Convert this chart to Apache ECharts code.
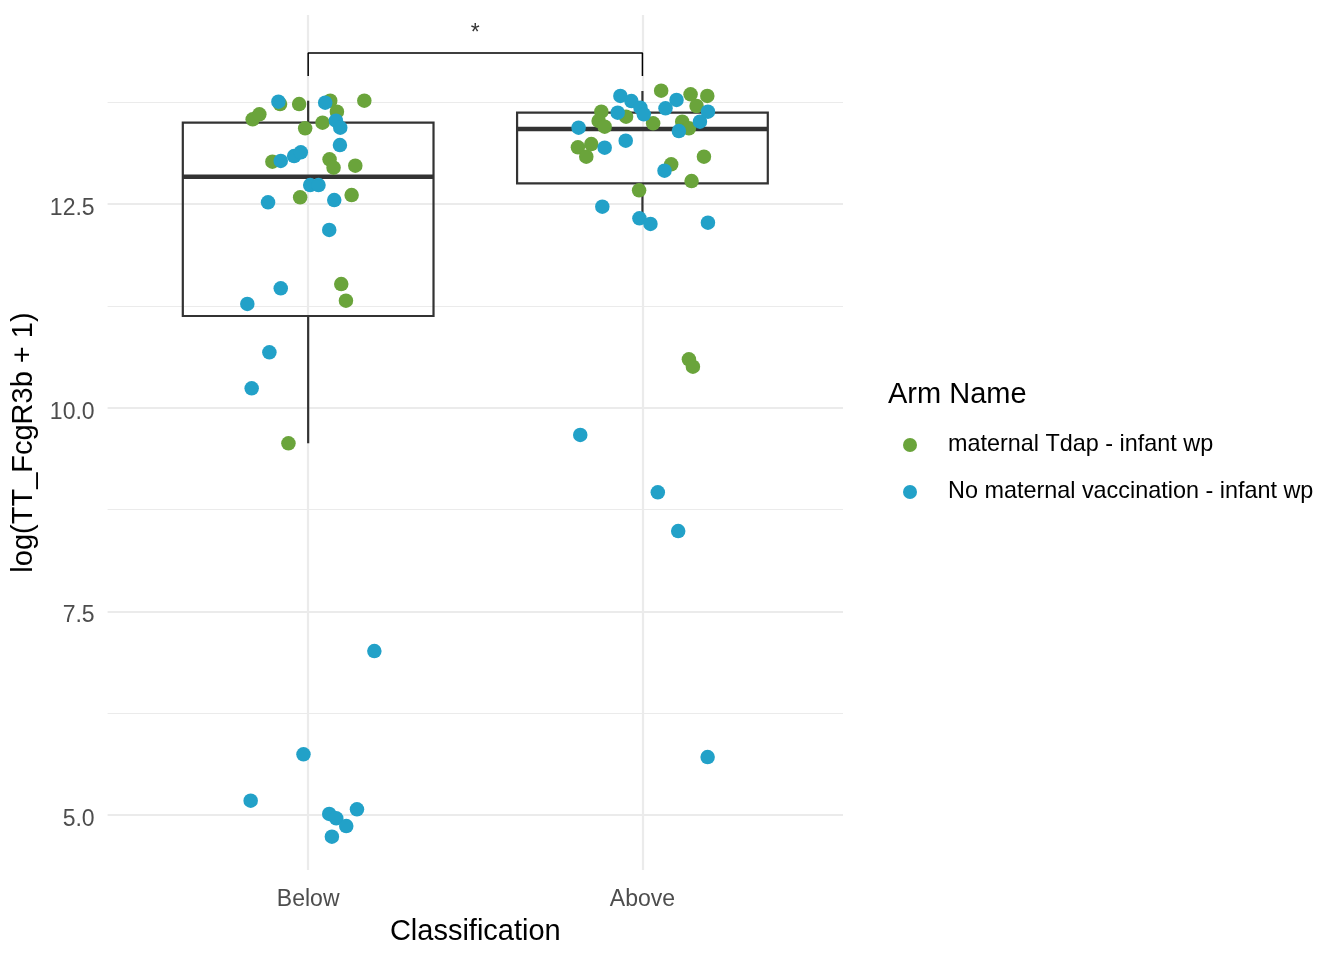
<!DOCTYPE html>
<html>
<head>
<meta charset="utf-8">
<title>TT_FcgR3b by Classification</title>
<script src="https://cdn.jsdelivr.net/npm/echarts@6/dist/echarts.min.js"></script>
<style>
  html, body { margin: 0; padding: 0; background: #fff; }
  .chart { width: 1344px; height: 960px; }
</style>
</head>
<body>
<div class="chart"></div>
<script>
// categories on the x axis (1 = Below, 2 = Above)
var classes = ['Below', 'Above'];
var armNames = ['maternal Tdap - infant wp', 'No maternal vaccination - infant wp'];

// y tick labels and grid lines
var yMajor = [5, 7.5, 10, 12.5];
var yMinor = [6.25, 8.75, 11.25, 13.75];

// box statistics per class: min, Q1, median, Q3, max (whisker ends)
var boxMin = [9.563, 12.385];
var boxQ1 = [11.125, 12.754];
var boxMed = [12.835, 13.421];
var boxQ3 = [13.498, 13.621];
var boxMax = [13.768, 13.887];

// maternal Tdap - infant wp, Below: jitter offset and value
var tdapBelowJit = [-0.084, -0.027, -0.166, -0.146, 0.066, 0.086, 0.168, -0.009, 0.043, -0.107, 0.064, 0.076, 0.141, -0.024, 0.130, 0.099, 0.113, -0.059];
var tdapBelowVal = [13.727, 13.727, 13.540, 13.601, 13.768, 13.633, 13.768, 13.429, 13.498, 13.019, 13.049, 12.946, 12.970, 12.582, 12.610, 11.518, 11.313, 9.563];
// maternal Tdap - infant wp, Above
var tdapAboveJit = [0.056, 0.144, 0.194, 0.162, -0.123, -0.049, -0.131, -0.113, 0.032, 0.119, 0.139, -0.193, -0.153, -0.168, 0.184, 0.086, 0.147, -0.010, 0.139, 0.151];
var tdapAboveVal = [13.891, 13.846, 13.826, 13.703, 13.633, 13.572, 13.519, 13.449, 13.491, 13.510, 13.429, 13.196, 13.236, 13.081, 13.081, 12.987, 12.782, 12.668, 10.594, 10.503];

// No maternal vaccination - infant wp, Below
var noVacBelowJit = [-0.089, 0.051, 0.083, 0.096, 0.095, -0.082, -0.042, -0.022, 0.006, 0.031, -0.120, 0.078, 0.063, -0.082, -0.182, -0.116, -0.169, 0.198, -0.014, -0.172, 0.063, 0.084, 0.146, 0.114, 0.071];
var noVacBelowVal = [13.756, 13.743, 13.522, 13.437, 13.224, 13.028, 13.089, 13.135, 12.733, 12.733, 12.521, 12.549, 12.181, 11.465, 11.273, 10.680, 10.238, 7.013, 5.745, 5.176, 5.013, 4.960, 5.070, 4.865, 4.734];
// No maternal vaccination - infant wp, Above
var noVacAboveJit = [-0.066, -0.033, 0.102, 0.069, -0.006, 0.004, -0.074, -0.191, 0.109, 0.172, 0.196, -0.050, -0.113, 0.066, -0.120, -0.009, 0.024, 0.196, -0.186, 0.046, 0.107, 0.195];
var noVacAboveVal = [13.826, 13.764, 13.777, 13.675, 13.682, 13.601, 13.621, 13.437, 13.396, 13.510, 13.633, 13.277, 13.191, 12.909, 12.467, 12.324, 12.255, 12.270, 9.665, 8.961, 8.486, 5.712];

// significance bracket between Below and Above
var bracketX = [1, 1, 2, 2];
var bracketY = [14.071, 14.353, 14.353, 14.071];
var sigLabel = '*';
var sigPos = [1.5, 14.59];

(function () {
  //1. init
  var myChart = echarts.init(document.querySelector('.chart'));

  var green = '#6AA43B';
  var blue = '#22A1C8';
  var boxColor = '#333333';
  var gridColor = '#EBEBEB';

  // turn class index + jitter into [x, y] pairs
  function points(classIdx, jit, val) {
    return val.map(function (v, i) {
      return [classIdx + jit[i], v];
    });
  }

  var boxData = classes.map(function (c, i) {
    return [i + 1, boxMin[i], boxQ1[i], boxMed[i], boxQ3[i], boxMax[i]];
  });

  var gridLines = [];
  yMajor.forEach(function (v) {
    gridLines.push({ yAxis: v, lineStyle: { width: 2.2 } });
  });
  yMinor.forEach(function (v) {
    gridLines.push({ yAxis: v, lineStyle: { width: 1.1 } });
  });
  classes.forEach(function (c, i) {
    gridLines.push({ xAxis: i + 1, lineStyle: { width: 2.2 } });
  });

  //2. option
  var option = {
    animation: false,
    textStyle: { fontFamily: 'Liberation Sans, Arial, Helvetica, sans-serif' },
    title: {
      text: 'Arm Name',
      left: 888,
      top: 378,
      padding: 0,
      textStyle: { fontSize: 29, fontWeight: 'normal', color: '#000', lineHeight: 34 }
    },
    legend: {
      data: armNames,
      orient: 'vertical',
      left: 903,
      top: 433,
      padding: 0,
      itemGap: 23,
      itemWidth: 14,
      itemHeight: 14,
      icon: 'circle',
      textStyle: { fontSize: 23.4, color: '#000', lineHeight: 24, padding: [0, 0, 0, 26] }
    },
    grid: {
      left: 107.6,
      right: 501,
      top: 15,
      bottom: 90,
      containLabel: false,
      outerBoundsMode: 'none'
    },
    xAxis: {
      type: 'value',
      min: 0.4,
      max: 2.6,
      name: 'Classification',
      nameLocation: 'middle',
      nameGap: 47,
      nameTextStyle: { fontSize: 29, color: '#000' },
      axisLine: { show: false },
      axisTick: { show: false },
      splitLine: { show: false },
      axisLabel: {
        customValues: [1, 2],
        margin: 18,
        fontSize: 23,
        color: '#4D4D4D',
        formatter: function (v) { return classes[Math.round(v) - 1]; }
      }
    },
    yAxis: {
      type: 'value',
      min: 4.325,
      max: 14.82,
      name: 'log(TT_FcgR3b + 1)',
      nameLocation: 'middle',
      nameRotate: 90,
      nameGap: 64,
      nameTextStyle: { fontSize: 29, color: '#000' },
      axisLine: { show: false },
      axisTick: { show: false },
      splitLine: { show: false },
      axisLabel: {
        customValues: yMajor,
        margin: 13,
        fontSize: 23,
        color: '#4D4D4D',
        verticalAlign: 'top',
        lineHeight: 9,
        formatter: function (v) { return v.toFixed(1); }
      }
    },
    series: [
      {
        // background grid lines
        type: 'scatter',
        data: [],
        silent: true,
        z: 0,
        markLine: {
          silent: true,
          z: 0,
          symbol: 'none',
          animation: false,
          label: { show: false },
          lineStyle: { color: gridColor, type: 'solid' },
          data: gridLines
        }
      },
      {
        // boxplot drawn through the axes
        type: 'custom',
        data: boxData,
        silent: true,
        z: 1,
        encode: { x: 0, y: [1, 2, 3, 4, 5] },
        renderItem: function (params, api) {
          var x = api.value(0);
          var pMin = api.coord([x, api.value(1)]);
          var pQ1 = api.coord([x, api.value(2)]);
          var pMed = api.coord([x, api.value(3)]);
          var pQ3 = api.coord([x, api.value(4)]);
          var pMax = api.coord([x, api.value(5)]);
          var half = api.size([0.75, 0])[0] / 2;
          var stroke = { stroke: boxColor, lineWidth: 2.2, fill: null };
          return {
            type: 'group',
            children: [
              { type: 'line', shape: { x1: pQ3[0], y1: pQ3[1], x2: pMax[0], y2: pMax[1] }, style: stroke },
              { type: 'line', shape: { x1: pQ1[0], y1: pQ1[1], x2: pMin[0], y2: pMin[1] }, style: stroke },
              {
                type: 'rect',
                shape: { x: pQ3[0] - half, y: pQ3[1], width: half * 2, height: pQ1[1] - pQ3[1] },
                style: { stroke: boxColor, lineWidth: 2.2, fill: 'none' }
              },
              {
                type: 'line',
                shape: { x1: pMed[0] - half, y1: pMed[1], x2: pMed[0] + half, y2: pMed[1] },
                style: { stroke: boxColor, lineWidth: 4.5 }
              }
            ]
          };
        }
      },
      {
        name: armNames[0],
        type: 'scatter',
        z: 2,
        symbolSize: 14.5,
        itemStyle: { color: green, opacity: 1 },
        data: points(1, tdapBelowJit, tdapBelowVal).concat(points(2, tdapAboveJit, tdapAboveVal))
      },
      {
        name: armNames[1],
        type: 'scatter',
        z: 2,
        symbolSize: 14.5,
        itemStyle: { color: blue, opacity: 1 },
        data: points(1, noVacBelowJit, noVacBelowVal).concat(points(2, noVacAboveJit, noVacAboveVal))
      },
      {
        // significance bracket
        type: 'line',
        z: 3,
        silent: true,
        symbol: 'none',
        lineStyle: { color: '#000', width: 1.5 },
        data: bracketX.map(function (x, i) { return [x, bracketY[i]]; })
      },
      {
        type: 'scatter',
        z: 3,
        silent: true,
        symbolSize: 0,
        data: [sigPos],
        label: {
          show: true,
          position: 'inside',
          formatter: sigLabel,
          fontSize: 23,
          color: '#000'
        }
      }
    ]
  };

  //3. apply
  myChart.setOption(option);

  window.addEventListener('resize', function () {
    myChart.resize();
  });
})();
</script>
</body>
</html>
